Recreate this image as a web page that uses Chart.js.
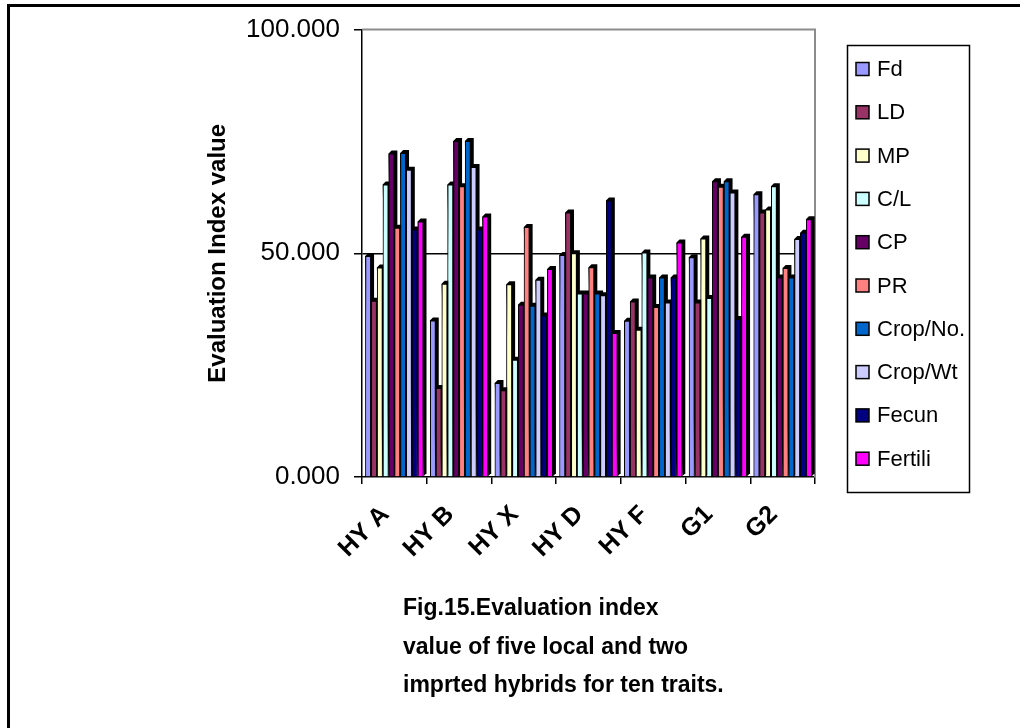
<!DOCTYPE html>
<html>
<head>
<meta charset="utf-8">
<script src="https://cdn.jsdelivr.net/npm/chart.js@4/dist/chart.umd.min.js"></script>
<style>
  html, body { margin: 0; padding: 0; background: #fff; }
  #wrap { width: 1020px; height: 728px; }
</style>
</head>
<body>
<div id="wrap"><canvas id="c" width="1020" height="728"></canvas></div>
<script>
// Hybrids on the category axis
const categories = ['HY A', 'HY B', 'HY X', 'HY D', 'HY F', 'G1', 'G2'];

// Evaluation index value of each trait, per hybrid
const fd      = [49.4, 35.0, 21.0, 49.6, 34.9, 49.1, 63.2];
const ld      = [39.4, 19.9, 19.4, 59.1, 39.2, 39.0, 59.1];
const mp      = [46.8, 43.2, 43.1, 50.0, 32.9, 53.3, 59.8];
const cl      = [65.4, 65.4, 26.2, 41.0, 50.2, 40.0, 65.0];
const cp      = [72.3, 75.1, 38.5, 41.0, 44.6, 66.1, 44.6];
const pr      = [55.7, 65.0, 55.9, 46.9, 38.0, 64.9, 46.7];
const cropNo  = [72.4, 75.1, 38.3, 41.0, 44.6, 66.1, 44.6];
const cropWt  = [68.7, 69.3, 44.1, 40.6, 39.0, 63.6, 53.2];
const fecun   = [55.3, 55.3, 36.1, 61.8, 44.6, 35.3, 54.6];
const fertili = [57.1, 58.2, 46.5, 32.2, 52.4, 53.7, 57.6];

const traitNames  = ['Fd', 'LD', 'MP', 'C/L', 'CP', 'PR', 'Crop/No.', 'Crop/Wt', 'Fecun', 'Fertili'];
const traitValues = [fd, ld, mp, cl, cp, pr, cropNo, cropWt, fecun, fertili];
const traitColors = ['#9999FF', '#993366', '#FFFFCC', '#CCFFFF', '#660066',
                     '#FF8080', '#0066CC', '#CCCCFF', '#000080', '#FF00FF'];

// Y axis ticks
const yTicks = [0, 50, 100];

const captionLines = ['Fig.15.Evaluation index', 'value of five local and two', 'imprted hybrids for ten traits.'];

const FONT = "'Liberation Sans', Arial, sans-serif";

// Page frame and the back wall of the plot
const framePlugin = {
  id: 'frame',
  beforeDraw(chart) {
    const ctx = chart.ctx;
    ctx.save();
    ctx.fillStyle = '#fff';
    ctx.fillRect(0, 0, chart.width, chart.height);
    ctx.strokeStyle = '#000';
    ctx.lineWidth = 3;
    ctx.strokeRect(8.5, 5.5, 1200, 1000);
    ctx.restore();
  },
  beforeDatasetsDraw(chart) {
    const {ctx, chartArea: a} = chart;
    ctx.save();
    ctx.strokeStyle = '#8c8c8c';
    ctx.lineWidth = 2;
    ctx.beginPath();
    ctx.moveTo(a.left, a.top);
    ctx.lineTo(a.right, a.top);
    ctx.lineTo(a.right, a.bottom);
    ctx.stroke();
    ctx.restore();
  }
};

// Columns with a dark depth face on top and to the right, drawn left to right
const depthPlugin = {
  id: 'depth',
  afterDatasetsDraw(chart) {
    const ctx = chart.ctx;
    const d = 3;
    ctx.save();
    chart.data.datasets.forEach((ds, i) => {
      const meta = chart.getDatasetMeta(i);
      meta.data.forEach(bar => {
        const p = bar.getProps(['x', 'y', 'base', 'width'], true);
        const l = p.x - p.width / 2, r = p.x + p.width / 2;
        ctx.fillStyle = '#000';
        ctx.beginPath();
        ctx.moveTo(l, p.y);
        ctx.lineTo(l + d, p.y - d);
        ctx.lineTo(r + d, p.y - d);
        ctx.lineTo(r + d, p.base - d);
        ctx.lineTo(r, p.base);
        ctx.closePath();
        ctx.fill();
        bar.draw(ctx, chart.chartArea);
      });
    });
    ctx.restore();
  }
};

// Boxed legend on the right
const legendBoxPlugin = {
  id: 'legendBox',
  afterDraw(chart) {
    const ctx = chart.ctx;
    ctx.save();
    ctx.strokeStyle = '#000';
    ctx.lineWidth = 1.5;
    ctx.strokeRect(847.5, 45.5, 122, 447);
    ctx.font = '22px ' + FONT;
    ctx.textBaseline = 'middle';
    ctx.textAlign = 'left';
    chart.data.datasets.forEach((ds, i) => {
      const cy = 69 + i * 43.3;
      ctx.fillStyle = ds.backgroundColor;
      ctx.fillRect(856, cy - 6.5, 13, 13);
      ctx.lineWidth = 1.5;
      ctx.strokeStyle = '#000';
      ctx.strokeRect(856, cy - 6.5, 13, 13);
      ctx.fillStyle = '#000';
      ctx.fillText(ds.label, 877, cy + 1);
    });
    ctx.restore();
  }
};

// Figure caption under the axis
const captionPlugin = {
  id: 'caption',
  afterDraw(chart) {
    const ctx = chart.ctx;
    ctx.save();
    ctx.font = 'bold 23px ' + FONT;
    ctx.fillStyle = '#000';
    ctx.textAlign = 'left';
    ctx.textBaseline = 'middle';
    captionLines.forEach((t, i) => ctx.fillText(t, 403, 609 + i * 38.5));
    ctx.restore();
  }
};

new Chart(document.getElementById('c'), {
  type: 'bar',
  data: {
    labels: categories,
    datasets: traitNames.map((name, i) => ({
      label: name,
      data: traitValues[i],
      backgroundColor: traitColors[i],
      borderColor: '#000',
      borderWidth: 1,
      categoryPercentage: 0.9,
      barPercentage: 1.0
    }))
  },
  options: {
    responsive: false,
    animation: false,
    devicePixelRatio: 1,
    events: [],
    layout: { padding: { left: 200, right: 205, top: 28, bottom: 0 } },
    plugins: {
      legend: { display: false },
      tooltip: { enabled: false },
      title: { display: false }
    },
    scales: {
      x: {
        ticks: {
          minRotation: 45, maxRotation: 45, autoSkip: false,
          color: '#000', padding: 16, labelOffset: -9,
          font: { family: FONT, size: 25, weight: 'bold' }
        },
        grid: { offset: true, drawOnChartArea: false, tickColor: '#000', tickLength: 7, lineWidth: 1.5 },
        border: { color: '#000', width: 1.5 },
        afterFit(s) { s.height = 728 - 477; }
      },
      y: {
        min: 0, max: 100,
        afterBuildTicks(s) { s.ticks = yTicks.map(v => ({ value: v })); },
        ticks: {
          color: '#000', padding: 14,
          font: { family: FONT, size: 26 },
          callback: v => Number(v).toFixed(3)
        },
        grid: {
          color: c => (c.tick && c.tick.value === 50) ? '#000' : 'rgba(0,0,0,0)',
          lineWidth: 1.5, tickColor: '#000', tickLength: 8
        },
        border: { color: '#000', width: 1.5 },
        title: {
          display: true, text: 'Evaluation Index value', color: '#000',
          font: { family: FONT, size: 24, weight: 'bold' },
          padding: { top: 4, bottom: 4 }
        },
        afterFit(s) { s.width = 162; }
      }
    }
  },
  plugins: [framePlugin, depthPlugin, legendBoxPlugin, captionPlugin]
});
</script>
</body>
</html>
